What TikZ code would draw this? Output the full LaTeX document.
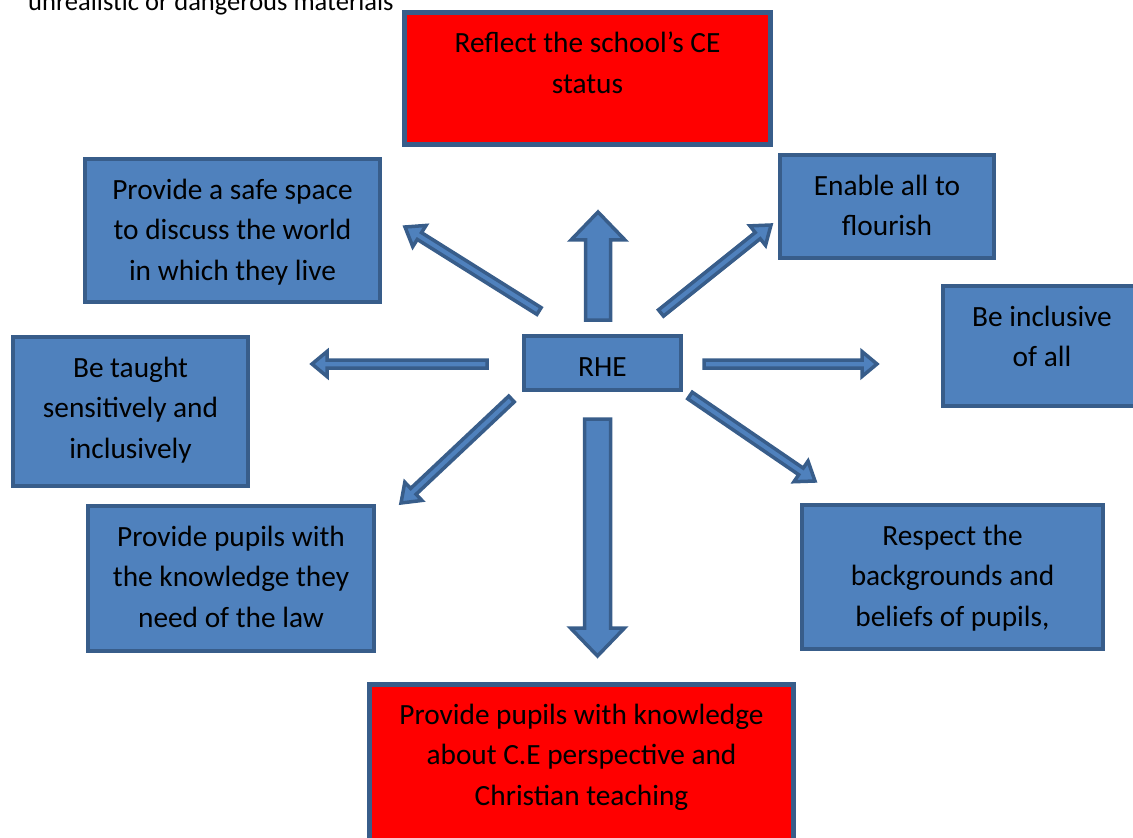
\documentclass[tikz,border=0pt]{standalone}
\usepackage{fontspec}
\setmainfont{Carlito}
\usetikzlibrary{calc}

\definecolor{boxblue}{HTML}{4F81BD}
\definecolor{boxline}{HTML}{385D8A}
\definecolor{boxred}{HTML}{FF0000}

% block arrow: tail, tip, half shaft, half head, head length
\newcommand{\blockarrow}[5]{%
  \coordinate (hb) at ($(#2)!#5!(#1)$);
  \filldraw[arrowbody] ($(#1)!#3!90:(#2)$) -- ($(hb)!#3!90:(#2)$) -- ($(hb)!#4!90:(#2)$)
    -- (#2) -- ($(hb)!#4!-90:(#2)$) -- ($(hb)!#3!-90:(#2)$) -- ($(#1)!#3!-90:(#2)$) -- cycle;}

\begin{document}
\begin{tikzpicture}[x=0.02cm,y=-0.02cm,line join=miter,
  box/.style 2 args={draw=boxline,fill=boxblue,line width=0.08cm,inner sep=0pt,
    execute at begin node={\begin{minipage}[c][#2][t]{#1}\centering\vspace*{0.23cm}\strut},
    execute at end node={\end{minipage}}},
  redbox/.style 2 args={box={#1}{#2},fill=boxred,line width=0.1cm},
  arrowbody/.style={draw=boxline,fill=boxblue,line width=0.07cm}]
\tikzstyle{every node}=[font=\fontsize{16.7}{23.25}\selectfont]
\useasboundingbox (0,0) rectangle (1133,838);

\node[anchor=base west,font=\fontsize{15.1}{18}\selectfont] (cut) at (22,11) {unrealistic or dangerous materials};

\node[redbox={7.32cm}{2.64cm}] (ce) at (587.5,78.5) {Reflect the school’s CE\\status};
\node[box={5.9cm}{2.86cm}] (space) at (232.5,230.5) {Provide a safe space\\to discuss the world\\in which they live};
\node[box={4.28cm}{2.06cm}] (flourish) at (887,206.5) {Enable all to\\flourish};
\node[box={3.96cm}{2.4cm}] (incl) at (1042,346) {Be inclusive\\of all};
\node[box={3.14cm}{1.08cm}] (rhe) at (602.5,363) {RHE};
\node[box={4.7cm}{2.98cm}] (taught) at (130.5,411.5) {Be taught\\sensitively and\\inclusively};
\node[box={5.72cm}{2.9cm}] (law) at (231,578.5) {Provide pupils with\\the knowledge they\\need of the law};
\node[box={6.02cm}{2.88cm}] (respect) at (952.5,577) {Respect the\\backgrounds and\\beliefs of pupils,};
\node[redbox={8.5cm}{3.4cm}] (teach) at (581.5,769) {Provide pupils with knowledge\\about C.E perspective and\\Christian teaching};

% arrow ends
\coordinate (up0) at (598,320);   \coordinate (up1) at (598,212);
\coordinate (dn0) at (597.5,419); \coordinate (dn1) at (597.5,656);
\coordinate (ul0) at (539,311);   \coordinate (ul1) at (405,227);
\coordinate (ur0) at (661,313);   \coordinate (ur1) at (771,225);
\coordinate (lf0) at (487,364);   \coordinate (lf1) at (312,364);
\coordinate (rt0) at (704,364);   \coordinate (rt1) at (877,364);
\coordinate (ll0) at (511.5,399); \coordinate (ll1) at (401,503);
\coordinate (lr0) at (690,395.5); \coordinate (lr1) at (815,481);

\blockarrow{up0}{up1}{0.25cm}{0.54cm}{0.56cm}
\blockarrow{dn0}{dn1}{0.26cm}{0.54cm}{0.56cm}
\blockarrow{ul0}{ul1}{0.08cm}{0.25cm}{0.34cm}
\blockarrow{ur0}{ur1}{0.08cm}{0.25cm}{0.34cm}
\blockarrow{lf0}{lf1}{0.08cm}{0.25cm}{0.3cm}
\blockarrow{rt0}{rt1}{0.08cm}{0.25cm}{0.3cm}
\blockarrow{ll0}{ll1}{0.08cm}{0.25cm}{0.34cm}
\blockarrow{lr0}{lr1}{0.08cm}{0.25cm}{0.34cm}
\end{tikzpicture}
\end{document}
